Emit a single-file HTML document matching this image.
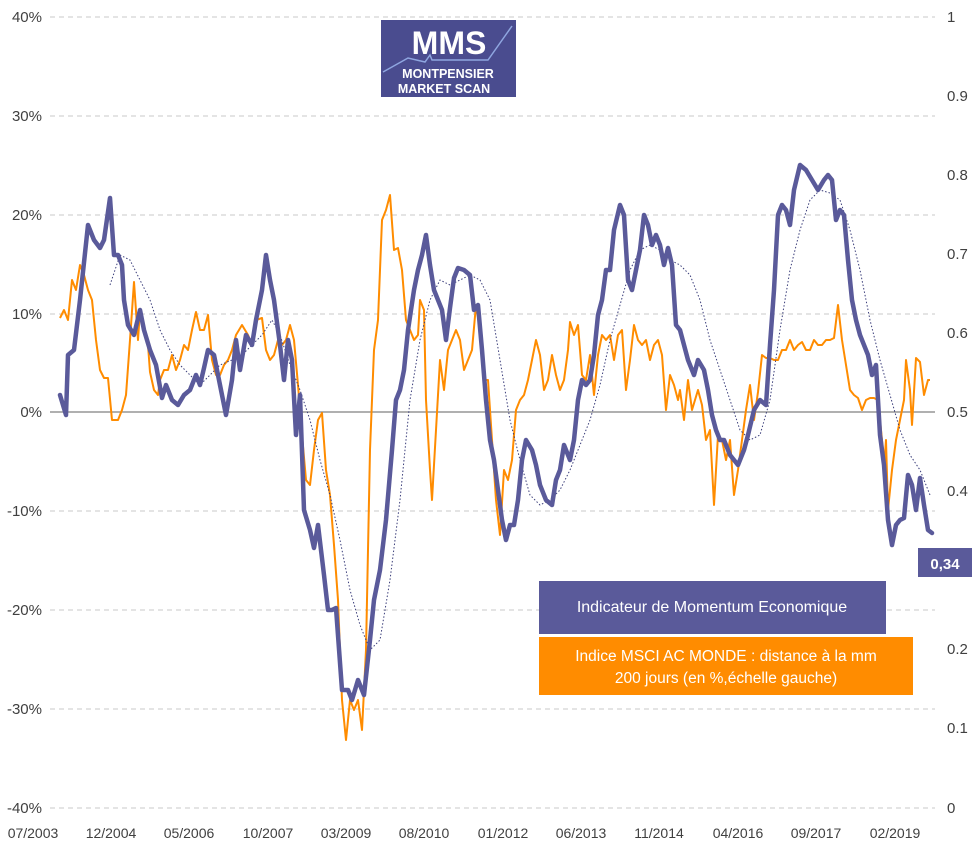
<!DOCTYPE html>
<html><head><meta charset="utf-8"><style>
body{margin:0;background:#fff;}
svg text{font-family:"Liberation Sans",sans-serif;}
</style></head><body>
<svg width="977" height="847" xmlns="http://www.w3.org/2000/svg">
<rect width="977" height="847" fill="#fff"/>
<g stroke="#c8c8c8" stroke-dasharray="5,4" stroke-width="1">
<line x1="50" y1="17" x2="935" y2="17"/><line x1="50" y1="116" x2="935" y2="116"/>
<line x1="50" y1="215" x2="935" y2="215"/><line x1="50" y1="314" x2="935" y2="314"/>
<line x1="50" y1="511" x2="935" y2="511"/><line x1="50" y1="610" x2="935" y2="610"/>
<line x1="50" y1="709" x2="935" y2="709"/><line x1="50" y1="808" x2="935" y2="808"/>
</g>
<line x1="50" y1="412" x2="935" y2="412" stroke="#808080" stroke-width="1.2"/>
<g font-size="15" fill="#404040" text-anchor="end">
<text x="42" y="22">40%</text><text x="42" y="121">30%</text><text x="42" y="220">20%</text>
<text x="42" y="319">10%</text><text x="42" y="417">0%</text><text x="42" y="516">-10%</text>
<text x="42" y="615">-20%</text><text x="42" y="714">-30%</text><text x="42" y="813">-40%</text>
</g>
<g font-size="15" fill="#404040">
<text x="947" y="22">1</text><text x="947" y="101">0.9</text><text x="947" y="180">0.8</text>
<text x="947" y="259">0.7</text><text x="947" y="338">0.6</text><text x="947" y="417">0.5</text>
<text x="947" y="496">0.4</text><text x="947" y="575">0.3</text><text x="947" y="654">0.2</text>
<text x="947" y="733">0.1</text><text x="947" y="813">0</text>
</g>
<g font-size="14" fill="#404040" text-anchor="middle">
<text x="33" y="838">07/2003</text><text x="111" y="838">12/2004</text><text x="189" y="838">05/2006</text>
<text x="268" y="838">10/2007</text><text x="346" y="838">03/2009</text><text x="424" y="838">08/2010</text>
<text x="503" y="838">01/2012</text><text x="581" y="838">06/2013</text><text x="659" y="838">11/2014</text>
<text x="738" y="838">04/2016</text><text x="816" y="838">09/2017</text><text x="895" y="838">02/2019</text>
</g>
<polyline fill="none" stroke="#ff8c00" stroke-width="2" stroke-linejoin="round" points="60,318 64,310 68,320 72,280 76,290 80,265 84,275 88,290 92,300 96,340 100,370 104,378 108,378 112,420 118,420 122,410 126,395 130,340 134,282 138,340 140,310 144,330 148,345 150,372 154,390 158,395 160,380 164,370 168,370 172,355 176,370 180,360 184,345 188,350 192,330 196,312 200,330 204,330 208,315 212,360 216,375 220,375 224,365 228,360 232,350 236,335 242,325 248,335 252,345 256,320 262,318 266,350 270,360 274,355 278,340 282,345 286,340 290,325 294,340 298,385 302,435 306,480 310,485 314,450 318,420 322,413 326,470 330,495 334,545 338,600 342,700 346,740 350,700 354,710 358,700 362,730 366,650 370,450 374,350 378,320 382,220 386,210 390,195 394,250 398,248 402,270 406,320 410,330 414,340 418,335 420,300 424,310 426,400 430,470 432,500 436,430 440,360 444,390 448,350 452,340 456,330 460,340 464,370 468,360 472,350 476,305 480,330 484,380 488,380 492,440 496,500 500,535 504,470 508,480 512,460 516,410 520,400 524,395 528,380 532,360 536,340 540,355 544,390 548,380 552,355 556,375 560,390 564,380 568,350 570,322 574,335 578,325 582,375 586,380 590,355 594,395 598,355 602,335 606,340 610,335 614,360 618,335 622,330 626,390 630,360 634,325 638,340 642,345 646,340 650,360 654,345 658,340 662,355 666,410 670,375 674,385 678,400 680,390 684,420 688,380 692,410 698,390 702,405 706,440 710,430 714,505 718,435 722,440 726,460 730,440 734,495 738,470 742,440 746,410 750,385 754,420 758,392 762,355 766,358 770,358 774,360 778,360 782,350 786,350 790,340 794,350 798,345 802,342 806,350 810,350 814,340 818,345 822,345 826,340 830,340 834,338 838,305 842,340 846,365 850,390 854,395 858,398 862,410 866,400 870,398 874,398 878,400 882,440 884,470 886,440 888,510 892,470 896,440 900,420 904,400 906,360 910,390 912,425 916,358 920,362 924,395 928,380 930,380"/>
<polyline fill="none" stroke="#3a3d7a" stroke-width="1" stroke-dasharray="1.5,2" points="110,285 120,255 130,260 140,280 150,300 160,330 170,350 180,365 190,375 200,385 210,375 220,365 232,360 242,355 252,345 262,335 272,320 280,335 290,365 300,390 310,420 320,460 330,495 340,540 350,590 360,625 370,650 380,640 390,580 400,500 410,400 420,340 430,300 440,280 450,285 460,280 470,275 480,280 490,300 500,360 510,420 520,460 530,495 540,505 550,500 560,490 570,470 580,445 590,420 600,385 610,340 620,305 630,270 640,250 650,245 660,250 670,260 680,265 690,275 700,300 710,340 720,370 730,400 740,430 750,440 760,435 770,400 780,330 790,270 800,230 810,200 820,190 830,193 840,200 850,230 860,270 870,320 880,360 890,395 900,430 910,455 920,470 930,495"/>
<polyline fill="none" stroke="#5a5a9a" stroke-width="4.5" stroke-linejoin="round" stroke-linecap="round" points="60,395 66,415 68,355 74,350 80,300 88,225 94,240 100,248 104,240 110,198 114,255 118,255 122,265 124,300 128,325 134,335 140,310 144,330 150,350 156,365 162,398 166,385 172,400 178,405 184,395 190,390 196,375 200,385 204,368 208,350 214,355 220,385 226,415 232,380 236,340 240,370 246,335 252,345 256,320 262,290 266,255 270,280 274,300 280,345 284,380 288,340 292,360 296,435 300,395 304,510 310,530 314,548 318,525 324,575 328,610 332,610 336,608 342,690 348,690 352,700 358,680 364,695 370,640 374,600 380,570 386,520 392,450 396,400 400,390 404,370 408,330 414,290 418,270 422,255 426,235 430,265 434,290 438,300 442,310 446,340 450,308 454,278 458,268 464,270 470,275 474,310 478,305 482,350 486,400 490,440 494,460 498,490 502,520 506,540 510,525 514,525 518,500 522,460 526,440 532,450 536,465 540,485 546,500 552,505 556,480 560,470 564,445 570,460 574,440 578,400 582,380 586,385 590,380 594,355 598,315 602,300 606,270 610,270 614,230 620,205 624,215 628,280 632,290 636,270 640,250 644,215 648,225 652,245 656,235 660,245 664,265 668,248 672,265 676,325 680,330 684,345 688,360 694,375 698,360 704,370 708,390 712,415 716,430 720,440 724,440 730,455 734,460 738,465 744,450 748,435 754,410 760,400 766,405 770,345 774,290 778,215 782,205 786,210 790,225 794,190 800,165 806,170 812,180 818,190 824,180 828,175 832,180 836,220 840,210 844,215 848,260 852,300 856,320 860,335 864,345 868,355 872,375 876,365 880,435 884,465 888,520 892,545 896,525 900,520 904,518 908,475 912,485 916,510 920,478 924,505 928,530 932,533"/>
<rect x="381" y="20" width="135" height="77" fill="#4a4c8f"/>
<polyline fill="none" stroke="#8fa6e0" stroke-width="1.5" points="383,72 408,58 425,62 430,55 432,60 488,60 512,26"/>
<text x="449" y="54" font-size="32" font-weight="bold" fill="#fff" text-anchor="middle">MMS</text>
<text x="448" y="78" font-size="12.5" font-weight="bold" fill="#fff" text-anchor="middle">MONTPENSIER</text>
<text x="444" y="93" font-size="12.5" font-weight="bold" fill="#fff" text-anchor="middle">MARKET SCAN</text>
<rect x="539" y="581" width="347" height="53" fill="#5a5a9a"/>
<text x="712" y="612" font-size="16" fill="#fff" text-anchor="middle">Indicateur de Momentum Economique</text>
<rect x="539" y="637" width="374" height="58" fill="#ff8c00"/>
<text x="726" y="661" font-size="15.5" fill="#fff" text-anchor="middle">Indice MSCI AC MONDE : distance à la mm</text>
<text x="726" y="683" font-size="15.5" fill="#fff" text-anchor="middle">200 jours (en %,échelle gauche)</text>
<rect x="918" y="548" width="54" height="29" fill="#5a5a9a"/>
<text x="945" y="569" font-size="15" font-weight="bold" fill="#fff" text-anchor="middle">0,34</text>
</svg>
</body></html>
